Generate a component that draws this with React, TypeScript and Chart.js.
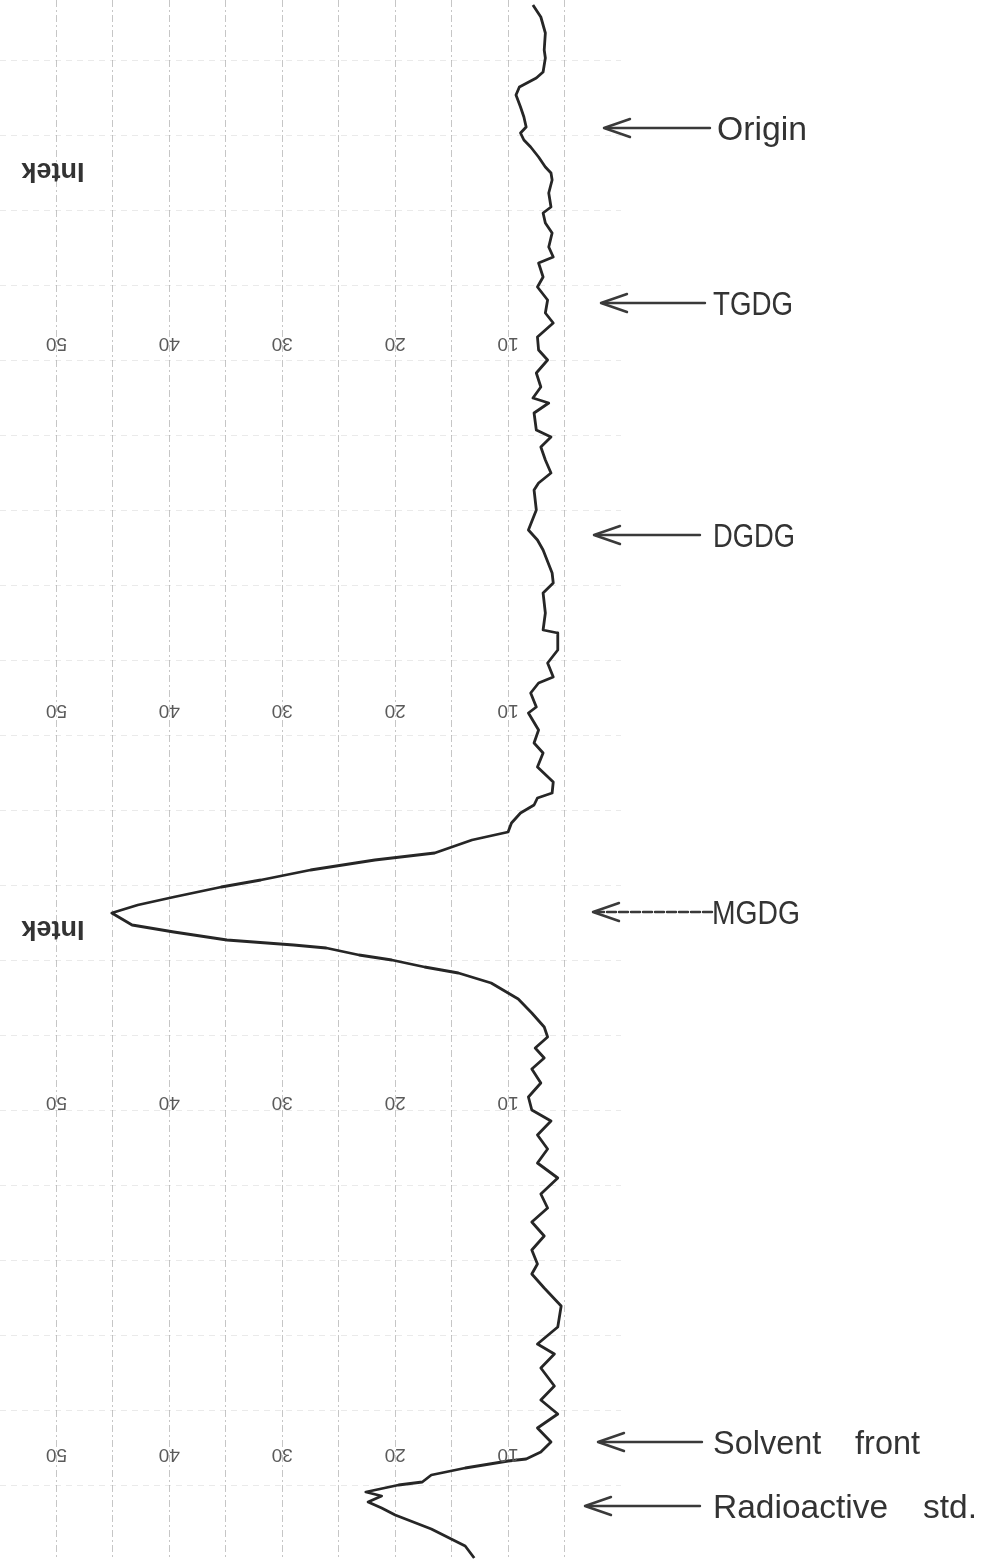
import React, { useEffect, useRef } from 'react';
import { Chart, registerables } from 'chart.js';

Chart.register(...registerables);

// Distance along the chromatogram strip (arbitrary units, top = 0)
const DISTANCE = [
  0.5, 1.7, 3.3, 5.0, 5.8, 7.2, 7.8, 8.7, 9.5, 10.7, 11.7, 12.7, 13.3, 14.0, 14.7, 15.7, 16.7, 17.3, 18.0, 19.3,
  20.7, 21.3, 22.3, 23.3, 24.7, 25.7, 26.3, 27.7, 28.7, 30.0, 31.3, 32.3, 33.7, 35.0, 36.0, 37.3, 38.7, 39.8, 40.3, 41.3,
  43.0, 43.7, 44.7, 46.0, 47.3, 48.3, 49.0, 51.0, 53.0, 54.0, 55.0, 57.3, 58.3, 59.3, 61.3, 63.0, 63.3, 65.0, 66.3, 67.7,
  68.3, 69.3, 70.7, 71.3, 73.0, 74.3, 75.3, 76.7, 78.2, 79.3, 79.8, 80.5, 81.3, 82.3, 83.2, 84.0, 85.3, 86.0, 87.0, 88.0,
  88.7, 89.7, 90.5, 91.3, 92.5, 93.2, 94.0, 94.5, 94.8, 95.5, 96.0, 96.7, 97.3, 98.3, 99.9, 101.3, 102.7, 103.7, 104.8, 105.8,
  106.9, 108.3, 109.7, 111.0, 112.1, 113.5, 114.9, 116.3, 117.8, 119.4, 120.8, 122.2, 123.6, 125.0, 126.4, 127.4, 128.8, 130.6, 132.7, 134.4,
  135.4, 136.8, 138.6, 140.0, 141.4, 142.8, 144.2, 145.2, 145.9, 146.1, 146.8, 147.5, 148.2, 148.5, 149.2, 149.6, 150.2, 150.8, 151.5, 152.9,
  154.6, 155.8,
];

// Recorder deflection (Intek units)
const COUNTS = [
  7.8, 7.1, 6.7, 6.8, 6.7, 6.9, 7.5, 9.0, 9.3, 8.9, 8.6, 8.4, 8.9, 8.6, 8.0, 7.3, 6.7, 6.2, 6.1, 6.4,
  6.2, 6.9, 6.7, 6.1, 6.4, 6.0, 7.3, 6.9, 7.4, 6.5, 6.7, 6.0, 7.4, 7.3, 6.5, 7.5, 7.1, 7.8, 6.4, 7.7,
  7.5, 6.2, 7.1, 6.7, 6.2, 7.3, 7.7, 7.5, 8.2, 7.4, 6.9, 6.1, 6.0, 6.9, 6.7, 6.9, 5.6, 5.6, 6.5, 6.0,
  7.3, 8.0, 7.5, 8.2, 7.3, 7.7, 6.9, 7.4, 6.0, 6.1, 7.4, 7.7, 8.9, 9.7, 10.0, 13.2, 16.5, 21.8, 27.5, 31.9,
  35.4, 39.6, 42.8, 45.1, 43.3, 39.6, 34.9, 29.0, 26.1, 23.2, 20.3, 17.4, 14.4, 11.5, 9.1, 7.9, 6.8, 6.5, 7.6, 6.8,
  7.9, 7.1, 8.2, 7.9, 6.2, 7.4, 6.5, 7.4, 5.6, 7.1, 6.5, 7.9, 6.8, 7.9, 7.4, 7.9, 6.8, 5.3, 5.6, 7.4,
  5.9, 7.1, 5.9, 7.1, 5.6, 7.4, 6.2, 7.1, 8.4, 10.0, 13.8, 16.8, 17.6, 19.7, 22.6, 21.2, 22.4, 21.2, 20.0, 16.8,
  13.8, 13.0,
];

const TICK_VALUES = [10, 20, 30, 40, 50];
const GRID_VALUES = [5, 10, 15, 20, 25, 30, 35, 40, 45, 50];
const TICK_ROWS = [34.3, 71.0, 110.2, 145.4];
const INTEK_ROWS = [17.0, 92.8];
const INTEK_TEXT = 'Intek';

const BAND_LABELS = ['Origin', 'TGDG', 'DGDG', 'MGDG', 'Solvent front', 'Radioactive std.'];
const BAND_POSITIONS = [12.8, 30.3, 53.5, 91.2, 144.2, 150.6];

// drawing styles for the annotation arrows (pixel offsets from the paper's right edge)
const ARROW_STYLES = [
  { tip: -17, end: 89, text: 96, width: 90, dashed: false },
  { tip: -20, end: 84, text: 92, width: 80, dashed: false },
  { tip: -27, end: 79, text: 92, width: 82, dashed: false },
  { tip: -28, end: 91, text: 91, width: 88, dashed: true },
  { tip: -23, end: 81, text: 92, width: 207, dashed: false },
  { tip: -36, end: 79, text: 92, width: 264, dashed: false },
];

const overlayPlugin = {
  id: 'overlay',
  afterDraw(chart: any) {
    const { ctx, chartArea } = chart;
    const xs = chart.scales.x;
    const ys = chart.scales.y;
    ctx.save();

    // upside-down scale numbers
    ctx.fillStyle = '#5a5a5a';
    ctx.font = "19px 'Liberation Sans'";
    ctx.textAlign = 'center';
    ctx.textBaseline = 'middle';
    TICK_ROWS.forEach((row) => {
      TICK_VALUES.forEach((v) => {
        ctx.save();
        ctx.translate(xs.getPixelForValue(v), ys.getPixelForValue(row));
        ctx.rotate(Math.PI);
        ctx.fillText(String(v), 0, 0);
        ctx.restore();
      });
    });

    // upside-down "Intek" marks
    ctx.fillStyle = '#333';
    ctx.font = "bold 27px 'Liberation Sans'";
    INTEK_ROWS.forEach((row) => {
      ctx.save();
      ctx.translate(xs.getPixelForValue(50.3), ys.getPixelForValue(row));
      ctx.rotate(Math.PI);
      ctx.fillText(INTEK_TEXT, 0, 0);
      ctx.restore();
    });

    // arrows and band labels
    const right = chartArea.right;
    BAND_LABELS.forEach((label, i) => {
      const st = ARROW_STYLES[i];
      const yy = ys.getPixelForValue(BAND_POSITIONS[i]);
      const tip = right + st.tip;
      const end = right + st.end;
      ctx.strokeStyle = '#3a3a3a';
      ctx.lineWidth = 2.4;
      ctx.lineCap = 'round';
      ctx.lineJoin = 'round';
      ctx.setLineDash(st.dashed ? [9, 3] : []);
      ctx.beginPath();
      ctx.moveTo(tip + 2, yy);
      ctx.lineTo(end, yy);
      ctx.stroke();
      ctx.setLineDash([]);
      ctx.beginPath();
      ctx.moveTo(tip + 26, yy - 9);
      ctx.lineTo(tip, yy);
      ctx.lineTo(tip + 26, yy + 9);
      ctx.stroke();

      ctx.fillStyle = '#333';
      ctx.font = "34px 'Liberation Sans'";
      ctx.textAlign = 'left';
      ctx.textBaseline = 'alphabetic';
      (ctx as any).wordSpacing = '26px';
      ctx.fillText(label, right + st.text, yy + 12, st.width);
      (ctx as any).wordSpacing = '0px';
    });

    ctx.restore();
  },
};

export default function App() {
  const canvasRef = useRef<HTMLCanvasElement | null>(null);

  useEffect(() => {
    const canvas = canvasRef.current;
    if (!canvas) return;
    const gridY: number[] = [];
    for (let p = 6; p <= 156; p += 7.5) gridY.push(p);

    const chart = new Chart(canvas, {
      type: 'line',
      data: {
        datasets: [
          {
            data: DISTANCE.map((d, i) => ({ x: COUNTS[i], y: d })),
            borderColor: '#262626',
            borderWidth: 2.8,
            borderJoinStyle: 'round',
            pointRadius: 0,
            tension: 0,
            fill: false,
          },
        ],
      },
      options: {
        indexAxis: 'y',
        animation: false,
        responsive: false,
        maintainAspectRatio: false,
        layout: { padding: { left: 0, top: 0, bottom: 0, right: 367 } },
        plugins: { legend: { display: false }, tooltip: { enabled: false } },
        scales: {
          x: {
            type: 'linear',
            reverse: true,
            min: 0,
            max: 55,
            ticks: { display: false },
            grid: { drawTicks: false, color: 'rgba(120,120,120,0.42)', lineWidth: 1 },
            border: { display: false, dash: [7, 3, 2, 3] },
            afterBuildTicks: (s: any) => {
              s.ticks = GRID_VALUES.map((v) => ({ value: v }));
            },
          },
          y: {
            type: 'linear',
            reverse: true,
            min: 0,
            max: 156,
            ticks: { display: false },
            grid: { drawTicks: false, color: 'rgba(150,150,150,0.2)', lineWidth: 1 },
            border: { display: false, dash: [6, 5] },
            afterBuildTicks: (s: any) => {
              s.ticks = gridY.map((v) => ({ value: v }));
            },
          },
        },
      } as any,
      plugins: [overlayPlugin],
    });
    return () => chart.destroy();
  }, []);

  return (
    <div style={{ position: 'absolute', left: 0, top: 0, width: 988, height: 1560, background: '#fff' }}>
      <canvas ref={canvasRef} width={988} height={1560} style={{ display: 'block' }} />
    </div>
  );
}
